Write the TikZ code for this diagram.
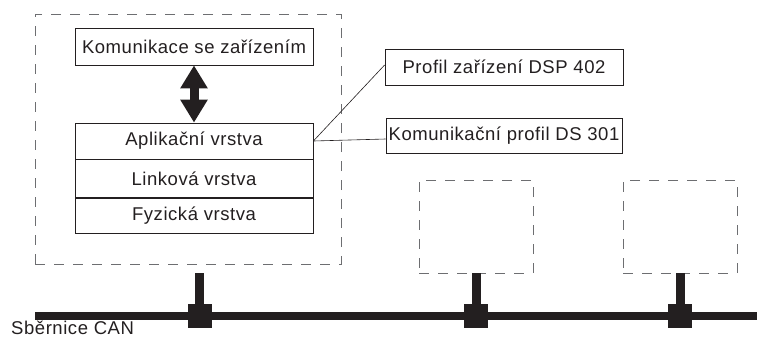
\documentclass[tikz,border=0pt]{standalone}
\usepackage{fontspec}
\setmainfont{Liberation Sans}[LetterSpace=3]
\usetikzlibrary{arrows.meta}
\definecolor{ink}{HTML}{231F20}
\definecolor{dashgray}{HTML}{6D6E71}
\newcommand\diafont{\fontsize{18.5}{22}\selectfont}
\begin{document}
\begin{tikzpicture}[x=1pt,y=-1pt,
  box/.style={draw=ink, line width=0.8pt, inner sep=0pt, font=\diafont, text=ink},
  frame/.style={draw=dashgray, line width=0.8pt, dash pattern=on 10pt off 9pt, inner sep=0pt},
  bus/.style={draw=ink, line width=8pt},
  stub/.style={draw=ink, line width=9pt},
  tap/.style={fill=ink, minimum size=24pt, inner sep=0pt},
  lead/.style={draw=ink, line width=0.6pt},
  dblarrow/.style={draw=ink, line width=9pt,
    {Triangle[width=26pt,length=23pt]}-{Triangle[width=26pt,length=23pt]}}]
\useasboundingbox (0,0) rectangle (758,338);

% device frames
\node[frame, minimum width=306pt, minimum height=250pt] (dev1) at (188,139) {};
\node[frame, minimum width=114pt, minimum height=93pt] (dev2) at (476,226.5) {};
\node[frame, minimum width=114pt, minimum height=93pt] (dev3) at (680,226.5) {};

% device internals
\node[box, minimum width=238pt, minimum height=37pt] (dev) at (194,46.5) {Komunikace se zařízením};
\node[box, minimum width=238pt, minimum height=36pt] (app) at (194,141) {Aplikační vrstva};
\node[box, minimum width=238pt, minimum height=38pt, anchor=north] (link) at (app.south) {Linková vrstva};
\node[box, minimum width=238pt, minimum height=35pt, anchor=north] (phys) at (link.south) {Fyzická vrstva};
\draw[dblarrow] (dev.south) -- (app.north);

% profiles
\node[box, minimum width=238pt, minimum height=36pt] (prof) at (504,67) {Profil zařízení DSP 402};
\node[box, minimum width=236pt, minimum height=35pt] (comm) at (504,135.5) {Komunikační profil DS 301};
\draw[lead] (app.east) -- ([yshift=2pt]prof.west);
\draw[lead] (app.east) -- ([yshift=-3.5pt]comm.west);

% bus with taps
\coordinate (busL) at (35,316);
\coordinate (busR) at (757,316);
\draw[bus] (busL) -- (busR);
\coordinate (s1) at (199.5,273);
\node[tap] (tap1) at (199.5,316) {};
\node[tap] (tap2) at (476,316) {};
\node[tap] (tap3) at (680,316) {};
\draw[stub] (s1) -- (tap1.center);
\draw[stub] (dev2.south) -- (tap2.center);
\draw[stub] (dev3.south) -- (tap3.center);

\node[anchor=base west, inner sep=0pt, font=\diafont, text=ink] (canlbl) at (11,334) {Sběrnice CAN};
\end{tikzpicture}
\end{document}
